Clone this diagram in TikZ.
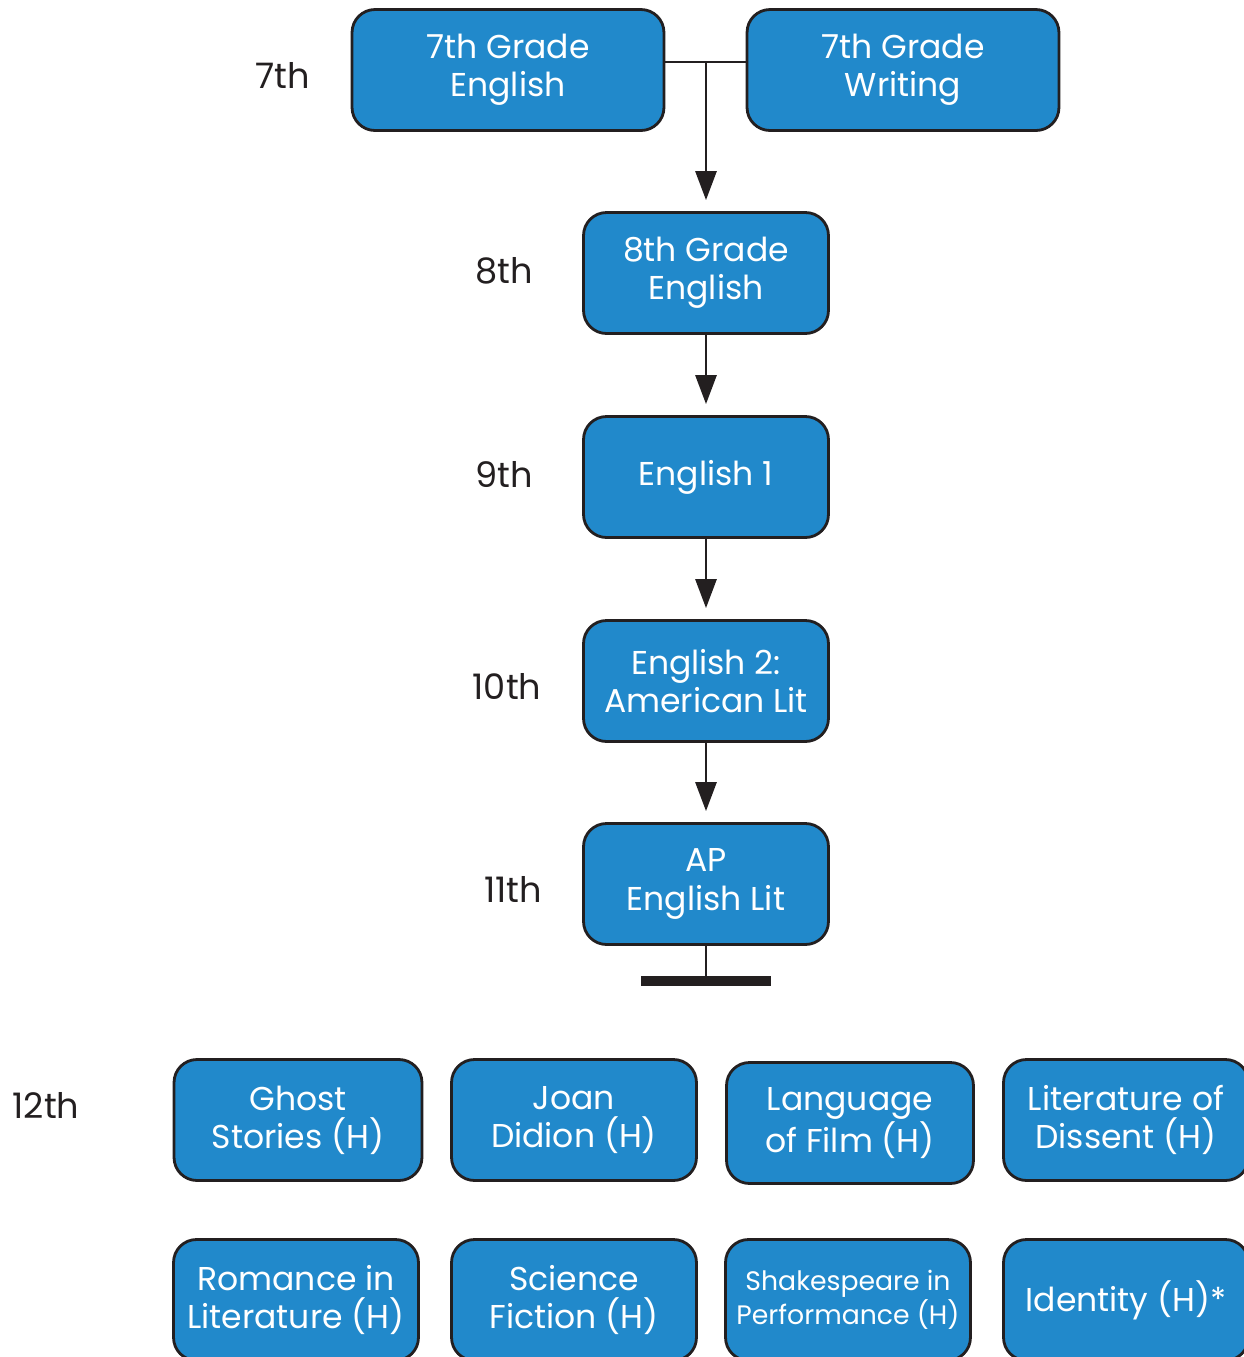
\documentclass[tikz,border=0pt]{standalone}
\usepackage{fontspec}
\setmainfont{Poppins}
\usetikzlibrary{arrows.meta}

\definecolor{courseblue}{HTML}{2189CB}
\definecolor{inkdark}{HTML}{231F20}

\begin{document}
\begin{tikzpicture}[x=0.02cm, y=-0.02cm,
  course/.style={draw=inkdark, line width=1.6pt, fill=courseblue, rounded corners=0.46cm, text=white, align=center, font=\fontsize{18.8}{21.8}\selectfont, minimum width=4.9cm, minimum height=2.42cm, inner sep=0pt},
  grade/.style={text=inkdark, font=\fontsize{20}{22}\selectfont},
  link/.style={draw=inkdark, line width=1.6pt},
  arr/.style={link, -{Triangle[length=0.58cm, width=0.42cm]}, shorten >=0.22cm}]

\useasboundingbox (0,0) rectangle (1244,1357);
\clip (0,0) rectangle (1244,1357);

\node[grade] (g7) at (283,75) {7th};
\node[grade] (g8) at (504,271) {8th};
\node[grade] (g9) at (504,475) {9th};
\node[grade] (g10) at (507,686) {10th};
\node[grade] (g11) at (513,889) {11th};
\node[grade] (g12) at (46,1105) {12th};

\node[course, minimum width=6.24cm] (eng7) at (508,70) {7th Grade\\English};
\node[course, minimum width=6.24cm] (wri7) at (903,70) {7th Grade\\Writing};

\node[course] (eng8) at (706,273) {8th Grade\\English};
\node[course] (eng1) at (706,477) {English 1};
\node[course] (eng2) at (706,681) {English 2:\\American Lit};
\node[course] (apeng) at (706,884) {AP\\English Lit};

\coordinate (join) at (706,62);
\coordinate (stem) at (706,977);

\draw[link] (eng7.east |- join) -- (wri7.west |- join);
\draw[arr] (join) -- (eng8.north);
\draw[arr] (eng8) -- (eng1);
\draw[arr] (eng1) -- (eng2);
\draw[arr] (eng2) -- (apeng);

\draw[link] (apeng.south) -- (stem);
\fill[inkdark] (641,976) rectangle (771,986);

\node[course, minimum width=4.96cm] (ghost) at (298,1120) {Ghost\\Stories (H)};
\node[course] (didion) at (574,1120) {Joan\\Didion (H)};
\node[course, minimum width=4.94cm] (film) at (850,1123) {Language\\of Film (H)};
\node[course] (dissent) at (1126,1120) {Literature of\\Dissent (H)};

\node[course] (romance) at (296,1300) {Romance in\\Literature (H)};
\node[course] (scifi) at (574,1300) {Science\\Fiction (H)};
\node[course, font=\fontsize{15.2}{17}\selectfont] (shake) at (848,1300) {Shakespeare in\\Performance (H)};
\node[course] (ident) at (1126,1300) {Identity (H)*};

\end{tikzpicture}
\end{document}
